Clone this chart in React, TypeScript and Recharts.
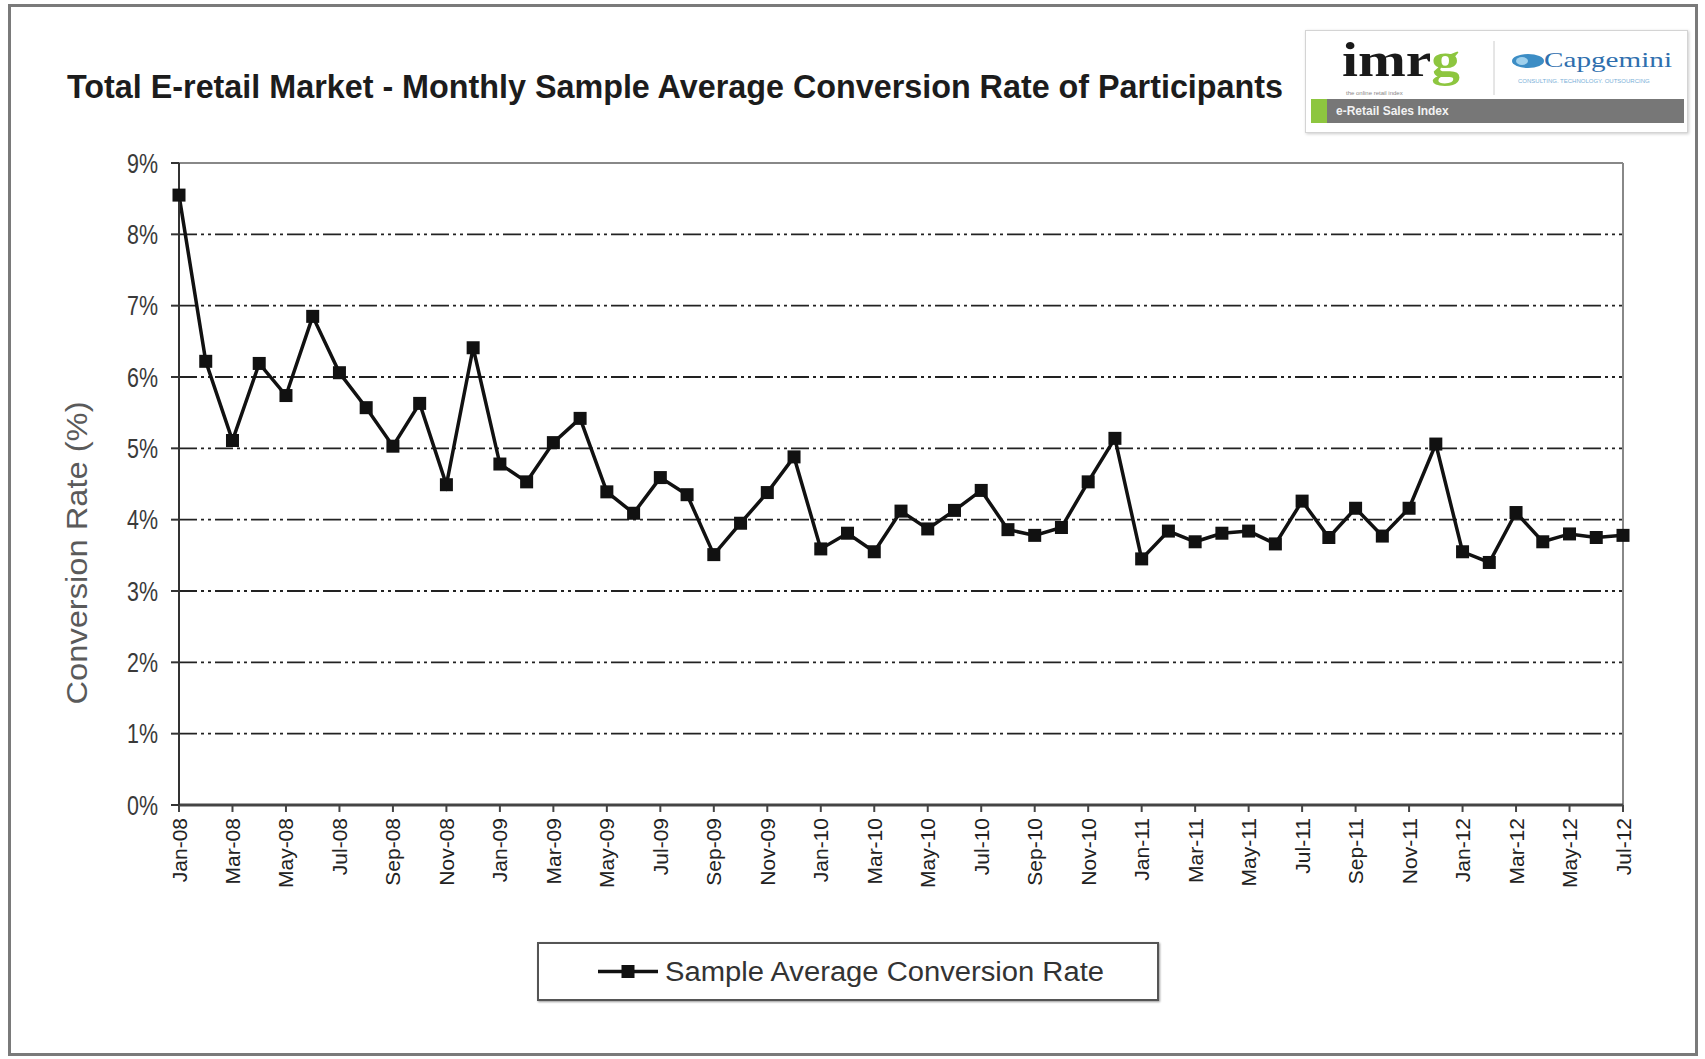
import React from 'react';
import { LineChart, Line, XAxis, YAxis, CartesianGrid, ReferenceLine } from 'recharts';

const monthNames = ['Jan', 'Feb', 'Mar', 'Apr', 'May', 'Jun', 'Jul', 'Aug', 'Sep', 'Oct', 'Nov', 'Dec'];
const years = ['08', '09', '10', '11', '12'];

// Jan-08 .. Jul-12
const months = years
    .flatMap((yr) => monthNames.map((m) => `${m}-${yr}`))
    .slice(0, 55);

// monthly sample average conversion rate, %
const conversionRate = [
    8.55, 6.22, 5.11, 6.19, 5.74, 6.85, 6.06, 5.57, 5.03, 5.63, 4.49, 6.41,
    4.78, 4.53, 5.08, 5.42, 4.39, 4.09, 4.59, 4.35, 3.51, 3.95, 4.38, 4.88,
    3.59, 3.81, 3.55, 4.12, 3.87, 4.13, 4.41, 3.86, 3.78, 3.89, 4.53, 5.14,
    3.45, 3.84, 3.69, 3.81, 3.84, 3.66, 4.26, 3.75, 4.16, 3.77, 4.16, 5.06,
    3.55, 3.40, 4.10, 3.69, 3.80, 3.75, 3.78,
];

const yTicks = [0, 1, 2, 3, 4, 5, 6, 7, 8, 9];

const SERIES_NAME = 'Sample Average Conversion Rate';
const TITLE = 'Total E-retail Market - Monthly Sample Average Conversion Rate of Participants';
const Y_TITLE = 'Conversion Rate (%)';

const FONT = '"Liberation Sans", Arial, Helvetica, sans-serif';
const SERIF = '"Liberation Serif", "DejaVu Serif", serif';

const data = months.map((month, i) => ({ month, rate: conversionRate[i] }));

const SquareDot = (props: any) => {
    const { cx, cy, index } = props;
    if (cx == null || cy == null) return null;
    return <rect key={`dot-${index}`} x={cx - 6.5} y={cy - 6.5} width={13} height={13} fill="#111" />;
};

const MonthTick = ({ x, y, payload }: any) => (
    <text
        x={x}
        y={y}
        transform={`rotate(-90, ${x}, ${y})`}
        textAnchor="end"
        dominantBaseline="central"
        fontSize={21}
        fontFamily={FONT}
        fill="#222"
    >
        {payload.value}
    </text>
);

// percent labels are drawn narrow, like the rest of the lettering
const PercentTick = ({ x, y, payload }: any) => (
    <text
        x={x}
        y={y}
        textAnchor="end"
        dominantBaseline="central"
        fontSize={28}
        fontFamily={FONT}
        fill="#3a3a3a"
        textLength={31}
        lengthAdjust="spacingAndGlyphs"
    >
        {`${payload.value}%`}
    </text>
);

function Logo() {
    return (
        <div
            style={{
                position: 'absolute',
                left: 1305,
                top: 30,
                width: 383,
                height: 103,
                border: '1px solid #d4d4d4',
                boxShadow: '1px 1px 3px #ccc',
                background: '#fff',
                boxSizing: 'border-box',
            }}
        >
            <svg width={383} height={103} style={{ position: 'absolute', left: 0, top: 0 }}>
                <text x={36} y={45} fontFamily={SERIF} fontWeight="bold" fontSize={48} fill="#1a1a1a" textLength={118} lengthAdjust="spacingAndGlyphs">
                    imr<tspan fill="#8dc63f">g</tspan>
                </text>
                <text x={40} y={64} fontFamily={FONT} fontSize={6} fill="#888">the online retail index</text>
                <line x1={188} y1={10} x2={188} y2={64} stroke="#ccc" strokeWidth={1} />
                <ellipse cx={222} cy={30} rx={16} ry={7} fill="#3c8dc5" />
                <ellipse cx={216} cy={30} rx={6} ry={4} fill="#9fd0ec" />
                <text x={238} y={36} fontFamily={SERIF} fontSize={21} fill="#2f6fae" textLength={128} lengthAdjust="spacingAndGlyphs">Capgemini</text>
                <text x={212} y={52} fontFamily={FONT} fontSize={6} fill="#7ab0d8">CONSULTING. TECHNOLOGY. OUTSOURCING</text>
                <rect x={5} y={68} width={373} height={24} fill="#777" />
                <rect x={5} y={68} width={16} height={24} fill="#8dc63f" />
                <text x={30} y={84} fontFamily={FONT} fontWeight="bold" fontSize={12} fill="#f2f2f2">e-Retail Sales Index</text>
            </svg>
        </div>
    );
}

function SeriesLegend() {
    return (
        <div
            style={{
                position: 'absolute',
                left: 537,
                top: 942,
                width: 622,
                height: 59,
                border: '2px solid #555',
                boxShadow: '1px 1px 2px #999',
                background: '#fff',
                boxSizing: 'border-box',
            }}
        >
            <svg width={618} height={55} style={{ position: 'absolute', left: 0, top: 0 }}>
                <line x1={59} y1={27.5} x2={119} y2={27.5} stroke="#111" strokeWidth={3.5} />
                <rect x={82.5} y={21} width={13} height={13} fill="#111" />
                <text x={126} y={28} dominantBaseline="central" fontFamily={FONT} fontSize={27} fill="#333" textLength={439} lengthAdjust="spacingAndGlyphs">
                    {SERIES_NAME}
                </text>
            </svg>
        </div>
    );
}

export default function App() {
    return (
        <div style={{ position: 'absolute', left: 0, top: 0, width: 1705, height: 1059, background: '#fff', fontFamily: FONT }}>
            <div
                style={{
                    position: 'absolute',
                    left: 8,
                    top: 4,
                    width: 1690,
                    height: 1052,
                    border: '3px solid #7a7a7a',
                    boxSizing: 'border-box',
                }}
            />
            <svg width={1705} height={1059} style={{ position: 'absolute', left: 0, top: 0 }}>
                <text x={67} y={98} fontFamily={FONT} fontWeight="bold" fontSize={33} fill="#1c1c1c" textLength={1216} lengthAdjust="spacingAndGlyphs">
                    {TITLE}
                </text>
                <text
                    x={76}
                    y={553}
                    transform="rotate(-90, 76, 553)"
                    textAnchor="middle"
                    dominantBaseline="central"
                    fontFamily={FONT}
                    fontSize={30}
                    fill="#5a5a5a"
                    textLength={303}
                    lengthAdjust="spacingAndGlyphs"
                >
                    {Y_TITLE}
                </text>
            </svg>
            <Logo />
            <div style={{ position: 'absolute', left: 0, top: 0 }}>
                <LineChart width={1705} height={1059} data={data} margin={{ top: 163, right: 82, bottom: 154, left: 59 }}>
                    <CartesianGrid vertical={false} stroke="#222" strokeWidth={1.8} strokeDasharray="18 4 3 4 3 4" />
                    <ReferenceLine y={9} stroke="#888" strokeWidth={2} />
                    <ReferenceLine x={months[months.length - 1]} stroke="#888" strokeWidth={2} />
                    <XAxis
                        dataKey="month"
                        interval={1}
                        height={100}
                        tick={MonthTick}
                        tickSize={7}
                        tickMargin={6}
                        axisLine={{ stroke: '#444', strokeWidth: 3 }}
                        tickLine={{ stroke: '#444', strokeWidth: 2 }}
                    />
                    <YAxis
                        width={120}
                        domain={[0, 9]}
                        ticks={yTicks}
                        tick={PercentTick}
                        tickSize={8}
                        tickMargin={13}
                        axisLine={{ stroke: '#333', strokeWidth: 2 }}
                        tickLine={{ stroke: '#333', strokeWidth: 2 }}
                    />
                    <Line
                        type="linear"
                        dataKey="rate"
                        name={SERIES_NAME}
                        stroke="#111"
                        strokeWidth={3.5}
                        dot={SquareDot}
                        activeDot={false}
                        isAnimationActive={false}
                    />
                </LineChart>
            </div>
            <SeriesLegend />
        </div>
    );
}
